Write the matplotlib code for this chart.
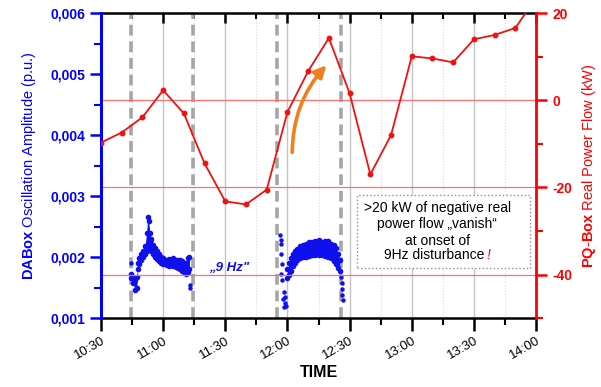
import matplotlib
matplotlib.use("Agg")
import matplotlib.pyplot as plt
from matplotlib.ticker import MultipleLocator, FixedLocator
from matplotlib.patches import Rectangle

plt.rcParams['font.family'] = ['Liberation Sans', 'DejaVu Sans']
plt.rcParams['mathtext.fontset'] = 'custom'
plt.rcParams['mathtext.rm'] = 'Liberation Sans'
plt.rcParams['mathtext.bf'] = 'Liberation Sans:bold'

# time axis: minutes after 10:30
time_ticks = [0, 30, 60, 90, 120, 150, 180, 210]
time_labels = ["10:30", "11:00", "11:30", "12:00", "12:30", "13:00", "13:30", "14:00"]

# PQ-Box real power flow (kW), 10 min values
pq_time = [0, 10, 20, 30, 40, 50, 60, 70, 80, 90, 100, 110, 120, 130, 140, 150,
           160, 170, 180, 190, 200, 210]
pq_kw = [-9.7, -7.4, -3.9, 2.3, -3.0, -14.5, -23.2, -23.9, -20.5, -2.7, 6.7, 14.3,
         1.6, -17.0, -8.0, 10.1, 9.6, 8.7, 14.0, 15.0, 16.6, 23.5]

# DABox oscillation amplitude, band of the scattered samples (lo / hi)
dab1_t = [14.5, 15.5, 16.5, 17.3, 17.8, 18.5, 19.5, 20.5, 21.3, 22.0, 22.6, 23.0,
          23.6, 24.3, 25, 26, 27, 28, 29, 30, 31, 32, 33, 34, 35, 36, 37, 38, 39,
          40, 41, 42, 42.7]
dab1_lo = [0.00166, 0.00158, 0.00146, 0.0015, 0.0018, 0.00188, 0.00195, 0.002,
           0.00205, 0.0021, 0.0022, 0.00218, 0.00215, 0.0021, 0.00205, 0.002,
           0.00197, 0.00193, 0.0019, 0.00188, 0.00188, 0.00187, 0.00186, 0.00187,
           0.00185, 0.00184, 0.00182, 0.0018, 0.00178, 0.00175, 0.00172, 0.00175,
           0.0018]
dab1_hi = [0.00172, 0.00168, 0.00162, 0.00168, 0.0019, 0.00198, 0.00205, 0.0021,
           0.00218, 0.0024, 0.00265, 0.0026, 0.0024, 0.0023, 0.0022, 0.00215,
           0.0021, 0.00205, 0.002, 0.00198, 0.00196, 0.00196, 0.00197, 0.00195,
           0.00198, 0.00196, 0.00195, 0.00195, 0.00193, 0.0019, 0.0019, 0.00198,
           0.002]
dab1_extra_t = [14.3, 24.0, 43.0, 43.2]
dab1_extra_v = [0.0019, 0.00227, 0.00155, 0.0015]

dab2_t = [90, 90.8, 91.5, 92.5, 93.5, 94.5, 96, 97.5, 99, 100.5, 102, 103.5, 105,
          106.5, 108, 109.5, 111, 112.5, 113.5, 114.5, 115.2]
dab2_lo = [0.00165, 0.0017, 0.00178, 0.00185, 0.0019, 0.00195, 0.00198, 0.002,
           0.002, 0.00202, 0.00203, 0.00204, 0.00203, 0.00203, 0.00202, 0.002,
           0.00198, 0.00193, 0.00188, 0.00182, 0.00178]
dab2_hi = [0.0018, 0.0019, 0.00198, 0.00205, 0.0021, 0.00213, 0.00218, 0.0022,
           0.00222, 0.00224, 0.00225, 0.00226, 0.00228, 0.00224, 0.00226, 0.00227,
           0.00222, 0.0022, 0.00215, 0.00205, 0.00195]
dab2_extra_t = [86.5, 86.7, 87.0, 86.8, 87.2, 86.8, 87.5, 88.2, 88.0, 88.6, 88.4,
                89.0, 89.3, 115.8, 116.1, 116.3, 116.5, 116.6]
dab2_extra_v = [0.00236, 0.00228, 0.00222, 0.00205, 0.00188, 0.00172, 0.00162,
                0.00142, 0.00132, 0.00125, 0.00118, 0.00135, 0.0012,
                0.00168, 0.00158, 0.00148, 0.00138, 0.0013]

# onsets / ends of the 9 Hz disturbance
marker_times = [14.5, 44.5, 85, 116]

box_lines = [u">20 kW of negative real", u"power flow \u201evanish\u201c", "at onset of",
             "9Hz disturbance"]

fig = plt.figure(figsize=(6.01, 3.87), dpi=100)
ax = fig.add_axes([0.168, 0.178, 0.724, 0.788])
ax2 = ax.twinx()

ax.set_xlim(0, 210)
ax.set_ylim(0.001, 0.006)
ax2.set_ylim(-50, 20)

# grid
for t in time_ticks[1:-1]:
    ax.axvline(t, color='#c4c4c4', lw=1.0, zorder=0)
for t in range(15, 210, 30):
    ax.axvline(t, color='#d8d8d8', lw=0.8, ls=':', zorder=0)
for v in [-40, -20, 0]:
    ax2.axhline(v, color='#ff7070', lw=0.9, zorder=1)

for t in marker_times:
    ax.axvline(t, color='#a6a6a6', lw=2.6, ls=(0, (3, 1.6)), zorder=1)

blue = '#1010ee'
ax.fill_between(dab1_t, dab1_lo, dab1_hi, color=blue, lw=0, zorder=3)
ax.fill_between(dab2_t, dab2_lo, dab2_hi, color=blue, lw=0, zorder=3)
ax.plot(dab1_t + dab1_t, dab1_lo + dab1_hi, 'o', color=blue, ms=3.0, zorder=3)
ax.plot(dab2_t + dab2_t, dab2_lo + dab2_hi, 'o', color=blue, ms=3.0, zorder=3)
ax.plot(dab1_extra_t, dab1_extra_v, 'o', color=blue, ms=2.2, zorder=3)
ax.plot(dab2_extra_t, dab2_extra_v, 'o', color=blue, ms=2.2, zorder=3)

ax.text(62, 0.00182, u"\u201e9 Hz\"", color=blue, fontsize=9.5, fontweight='bold',
        fontstyle='italic', ha='center', va='center')

ax2.plot(pq_time, pq_kw, '-o', color='#f21010', lw=1.3, ms=3.2, zorder=4)

ax2.annotate('', xy=(109.7, 8.5), xytext=(92.3, -12.6),
             arrowprops=dict(arrowstyle='-|>,head_length=0.7,head_width=0.35',
                             color='#f07f1e', lw=2.6,
                             connectionstyle='arc3,rad=-0.2'))

# annotation box
ax2.add_patch(Rectangle((123.7, -38.4), 83.5, 16.6, fc='white', ec='#909090',
                        ls=':', lw=1.0, zorder=5))
line_y = [-24.8, -28.3, -32.2, -35.6]
for txt, y in zip(box_lines[:3], line_y[:3]):
    ax2.text(162.3, y, txt, fontsize=10, ha='center', va='center', zorder=6)
last = ax2.text(160.8, line_y[3], box_lines[3], fontsize=10, ha='center',
                va='center', zorder=6)
ax2.annotate("!", xy=(1, 0.5), xycoords=last, xytext=(1.5, 0),
             textcoords='offset points', color='red', fontsize=10,
             fontstyle='italic', ha='left', va='center', zorder=6)

# spines
for s in ['top', 'bottom']:
    ax.spines[s].set_color('black')
    ax.spines[s].set_linewidth(1.8)
ax2.spines['left'].set_color('blue')
ax2.spines['left'].set_linewidth(2.0)
ax2.spines['right'].set_color('red')
ax2.spines['right'].set_linewidth(2.0)
ax.spines['left'].set_color('blue')
ax.spines['left'].set_linewidth(2.0)
ax.spines['right'].set_visible(False)
ax2.spines['top'].set_visible(False)
ax2.spines['bottom'].set_visible(False)

# x ticks
ax.xaxis.set_major_locator(FixedLocator(time_ticks))
ax.xaxis.set_minor_locator(MultipleLocator(15))
ax.set_xticklabels(time_labels, rotation=30, ha='right', rotation_mode='anchor')
ax.tick_params(axis='x', which='major', length=9, width=1.8, labelsize=9.5, pad=3)
ax.tick_params(axis='x', which='minor', length=5, width=1.5)
sec = ax.secondary_xaxis('top')
sec.xaxis.set_major_locator(FixedLocator(time_ticks))
sec.xaxis.set_minor_locator(MultipleLocator(15))
sec.tick_params(axis='x', which='major', direction='in', length=7, width=1.8, labeltop=False)
sec.tick_params(axis='x', which='minor', direction='in', length=4, width=1.5)
sec.spines['top'].set_visible(False)
ax.set_xlabel("TIME", fontsize=11.5, fontweight='bold', labelpad=2)

# left y ticks
left_ticks = [0.001, 0.002, 0.003, 0.004, 0.005, 0.006]
ax.set_yticks(left_ticks)
ax.set_yticklabels(["0,001", "0,002", "0,003", "0,004", "0,005", "0,006"])
ax.yaxis.set_minor_locator(MultipleLocator(0.0005))
ax.tick_params(axis='y', which='major', colors='blue', length=8, width=1.8, labelsize=10)
ax.tick_params(axis='y', which='minor', colors='blue', length=5, width=1.5)
for lb in ax.get_yticklabels():
    lb.set_fontweight('bold')
ax.set_ylabel(r"$\mathbf{DABox}$ Oscillation Amplitude (p.u.)", color='blue',
              fontsize=10.5, labelpad=9)

# right y ticks
right_ticks = [-40, -20, 0, 20]
ax2.set_yticks(right_ticks)
ax2.set_yticklabels(["-40", "-20", "0", "20"])
ax2.yaxis.set_minor_locator(MultipleLocator(10))
ax2.tick_params(axis='y', which='major', colors='red', length=8, width=1.8, labelsize=10)
ax2.tick_params(axis='y', which='minor', colors='red', length=5, width=1.5)
for lb in ax2.get_yticklabels():
    lb.set_fontweight('bold')
ax2.set_ylabel(r"$\mathbf{PQ}$-$\mathbf{Box}$ Real Power Flow (kW)", color='red',
               fontsize=10.5, labelpad=6)

plt.savefig("out.png", dpi=100)
